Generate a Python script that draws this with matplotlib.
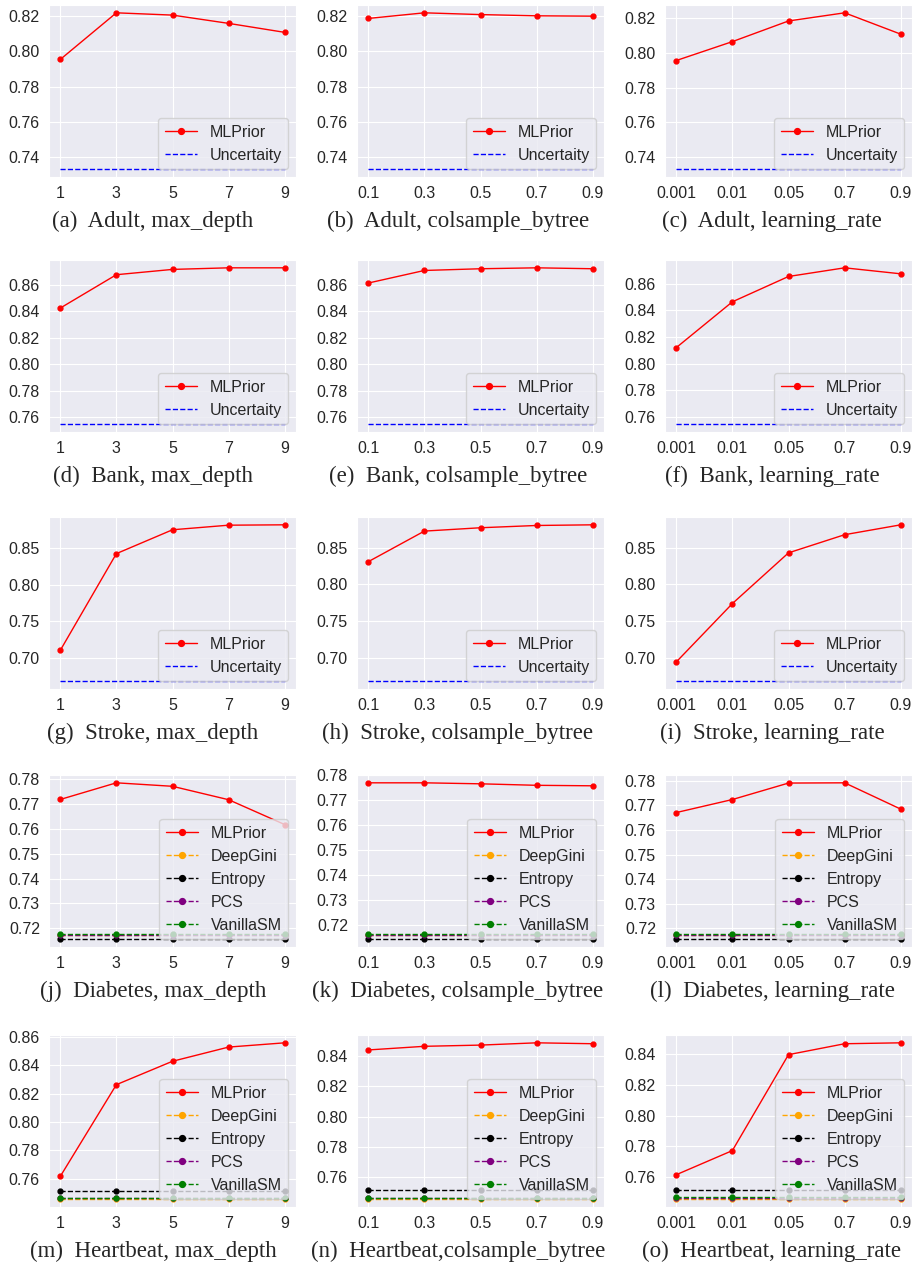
import matplotlib
matplotlib.use("Agg")
import matplotlib.pyplot as plt
import seaborn as sns
from matplotlib.ticker import MultipleLocator, FormatStrFormatter

sns.set_style("darkgrid")
plt.rcParams['font.family'] = ['Liberation Sans', 'DejaVu Sans']

# x tick labels for each hyperparameter
depth_x = ['1', '3', '5', '7', '9']
col_x = ['0.1', '0.3', '0.5', '0.7', '0.9']
lr_x = ['0.001', '0.01', '0.05', '0.7', '0.9']

# MLPrior results
adult_depth = [0.7954, 0.8219, 0.8206, 0.8159, 0.8108]
adult_col = [0.8187, 0.8219, 0.8209, 0.8202, 0.8200]
adult_lr = [0.7957, 0.8066, 0.8185, 0.8232, 0.8109]

bank_depth = [0.8423, 0.8675, 0.8715, 0.8727, 0.8727]
bank_col = [0.8612, 0.8707, 0.8720, 0.8727, 0.8720]
bank_lr = [0.8121, 0.8465, 0.8655, 0.8720, 0.8675]

stroke_depth = [0.7100, 0.8427, 0.8754, 0.8817, 0.8822]
stroke_col = [0.8311, 0.8729, 0.8775, 0.8806, 0.8815]
stroke_lr = [0.6941, 0.7739, 0.8432, 0.8680, 0.8815]

diab_depth = [0.7718, 0.7785, 0.7771, 0.7717, 0.7617]
diab_col = [0.7770, 0.7770, 0.7766, 0.7760, 0.7758]
diab_lr = [0.7671, 0.7724, 0.7791, 0.7792, 0.7685]

heart_depth = [0.7616, 0.8263, 0.8428, 0.8528, 0.8558]
heart_col = [0.8439, 0.8463, 0.8471, 0.8486, 0.8480]
heart_lr = [0.7615, 0.7772, 0.8396, 0.8467, 0.8473]

# baselines (constant over the hyperparameter)
adult_unc = 0.7331
bank_unc = 0.7547
stroke_unc = 0.6679

# DeepGini, Entropy, PCS, VanillaSM
diab_base = [0.7172, 0.7156, 0.7174, 0.7176]
diab_base_col = [0.7158, 0.7142, 0.7160, 0.7162]
heart_base = [0.7456, 0.7516, 0.7465, 0.7467]

base_names = ['DeepGini', 'Entropy', 'PCS', 'VanillaSM']
base_colors = ['orange', 'black', 'purple', 'green']

panels = [
    ('(a)  Adult, max_depth', depth_x, adult_depth, adult_unc),
    ('(b)  Adult, colsample_bytree', col_x, adult_col, adult_unc),
    ('(c)  Adult, learning_rate', lr_x, adult_lr, adult_unc),
    ('(d)  Bank, max_depth', depth_x, bank_depth, bank_unc),
    ('(e)  Bank, colsample_bytree', col_x, bank_col, bank_unc),
    ('(f)  Bank, learning_rate', lr_x, bank_lr, bank_unc),
    ('(g)  Stroke, max_depth', depth_x, stroke_depth, stroke_unc),
    ('(h)  Stroke, colsample_bytree', col_x, stroke_col, stroke_unc),
    ('(i)  Stroke, learning_rate', lr_x, stroke_lr, stroke_unc),
    ('(j)  Diabetes, max_depth', depth_x, diab_depth, diab_base),
    ('(k)  Diabetes, colsample_bytree', col_x, diab_col, diab_base_col),
    ('(l)  Diabetes, learning_rate', lr_x, diab_lr, diab_base),
    ('(m)  Heartbeat, max_depth', depth_x, heart_depth, heart_base),
    ('(n)  Heartbeat,colsample_bytree', col_x, heart_col, heart_base),
    ('(o)  Heartbeat, learning_rate', lr_x, heart_lr, heart_base),
]

row_steps = [0.02, 0.02, 0.05, 0.01, 0.02]

W, H = 915, 1265
fig = plt.figure(figsize=(W / 100, H / 100), dpi=100)

lefts = [49, 357, 665]
tops = [5, 260, 517, 775, 1035]
aw, ah = 247, 172
# captions sit under the whole sub-image, tick labels included
cap_x = [153, 458, 772]

for i, (cap, xl, vals, base) in enumerate(panels):
    r, c = divmod(i, 3)
    ax = fig.add_axes([lefts[c] / W, 1 - (tops[r] + ah) / H, aw / W, ah / H])
    xs = list(range(len(xl)))
    ax.plot(xs, vals, color='red', marker='o', markersize=3.5, lw=1, label='MLPrior')
    if isinstance(base, list):
        for name, col, v in zip(base_names, base_colors, base):
            ax.plot(xs, [v] * len(xs), color=col, ls='--', marker='o',
                    markersize=3.5, lw=1, label=name)
    else:
        ax.plot(xs, [base] * len(xs), color='blue', ls='--', lw=1, label='Uncertaity')
    ax.set_xticks(xs)
    ax.set_xticklabels(xl)
    ax.yaxis.set_major_locator(MultipleLocator(row_steps[r]))
    ax.yaxis.set_major_formatter(FormatStrFormatter('%.2f'))
    ax.tick_params(labelsize=11.5, pad=3)
    ax.legend(loc='lower right', fontsize=11.5, markerscale=1.2)
    fig.text(cap_x[c] / W, 1 - (tops[r] + ah + 44) / H, cap,
             ha='center', va='center', fontsize=16.5, family='Liberation Serif')

fig.savefig('out.png', dpi=100)
